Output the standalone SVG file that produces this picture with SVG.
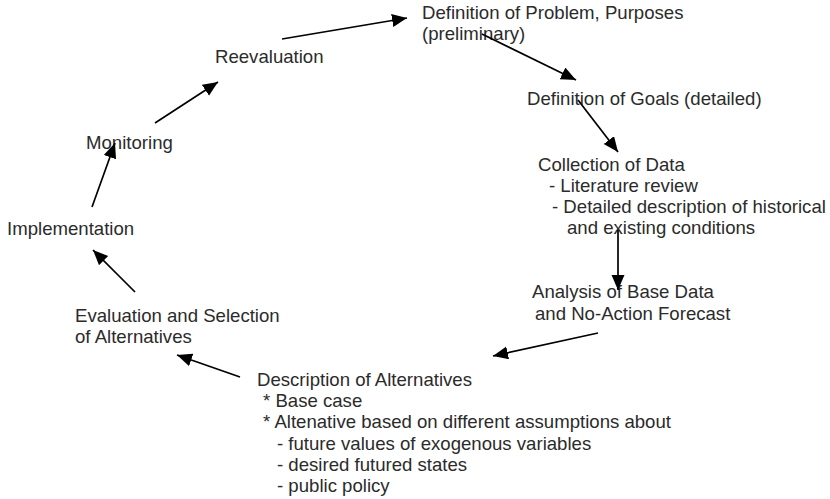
<svg xmlns="http://www.w3.org/2000/svg" width="830" height="499" viewBox="0 0 830 499">
<style>
text{font-family:"Liberation Sans",Arial,sans-serif;font-size:18.6px;fill:#2b2b2b}
.c line{stroke:#000;stroke-width:1.7;marker-end:url(#ah)}
</style>
<defs>
<marker id="ah" markerUnits="userSpaceOnUse" markerWidth="16" markerHeight="14" refX="15" refY="6.5" orient="auto">
<path d="M0,0 L15,6.5 L0,13 z" fill="#000"/>
</marker>
</defs>
<rect width="830" height="499" fill="#fff"/>
<g id="problem"><text x="422" y="19">Definition of Problem, Purposes</text><text x="422" y="40">(preliminary)</text></g>
<g id="goals"><text x="527" y="105">Definition of Goals (detailed)</text></g>
<g id="collection" xml:space="preserve"><text x="538" y="171">Collection of Data</text><text x="549" y="192">-  Literature review</text><text x="552" y="213">- Detailed description of historical</text><text x="567" y="234">and existing conditions</text></g>
<g id="analysis"><text x="532" y="298">Analysis of Base Data</text><text x="535" y="320">and No-Action Forecast</text></g>
<g id="description" xml:space="preserve"><text x="257" y="386">Description of Alternatives</text><text x="263" y="407"> * Base case</text><text x="263" y="428"> * Altenative based on different assumptions about</text><text x="277" y="450">- future values of exogenous variables</text><text x="277" y="471">- desired futured states</text><text x="277" y="492">- public policy</text></g>
<g id="evaluation"><text x="75" y="322">Evaluation and Selection</text><text x="75" y="343">of Alternatives</text></g>
<g id="implementation"><text x="7" y="235">Implementation</text></g>
<g id="monitoring"><text x="86" y="149">Monitoring</text></g>
<g id="reevaluation"><text x="215" y="63">Reevaluation</text></g>
<g id="connectors" class="c">
<line x1="282" y1="39" x2="407" y2="18"/>
<line x1="482" y1="34" x2="576" y2="80"/>
<line x1="578" y1="100" x2="618" y2="152"/>
<line x1="618" y1="230" x2="618" y2="290"/>
<line x1="598" y1="333" x2="493" y2="356"/>
<line x1="240" y1="377" x2="177" y2="355"/>
<line x1="135" y1="292" x2="93" y2="250"/>
<line x1="92" y1="207" x2="115" y2="143"/>
<line x1="155" y1="123" x2="218" y2="82"/>
</g>
</svg>
